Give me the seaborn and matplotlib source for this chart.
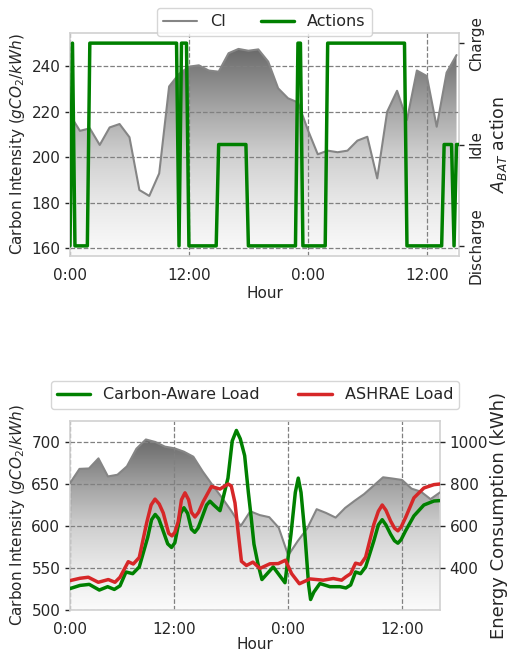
import numpy as np
import matplotlib
matplotlib.use('Agg')
import matplotlib.pyplot as plt
from matplotlib.colors import LinearSegmentedColormap
from matplotlib.patches import Polygon
import seaborn as sns

# ---- top panel: carbon intensity (hourly) + battery action (15 min steps)
ci_top = [218.5, 211.5, 212.6, 205.3, 213.0, 214.5, 208.7, 185.5, 182.9, 192.8,
          231.0, 236.5, 239.7, 240.3, 238.0, 237.5, 245.6, 247.5, 246.7, 247.3,
          241.9, 230.2, 225.8, 224.0, 211.9, 201.2, 202.8, 202.1, 202.8, 207.2,
          208.9, 190.6, 219.9, 229.1, 216.3, 238.0, 235.6, 213.3, 237.1, 244.8]
action_levels = [-1, 1, -1, 1, -1, 1, -1, 0, -1, 1, -1, 1, -1, 0, -1, 0]
action_runs = [1, 1, 6, 36, 1, 3, 12, 12, 20, 2, 10, 32, 15, 4, 1, 2]
action_ticks = [-1, 0, 1]
action_names = ['Discharge', 'Idle', 'Charge']

# ---- bottom panel: carbon intensity (hourly, starting 1h) + loads (kWh)
ci_bot = [651, 668, 668.5, 680.5, 659, 661, 671, 692, 703, 700,
          694.5, 692.5, 688.5, 682.5, 664.7, 649, 634, 618, 600, 617.5,
          613, 610.5, 598, 565, 582, 597, 620, 615.5, 610, 621.5,
          630, 638, 648, 658, 656.5, 654.8, 644.5, 640.8, 632, 640]

ashrae_t = [1.0, 2.05, 2.93, 3.98, 5.04, 5.74, 6.27, 7.14, 7.67, 8.3,
            9.08, 9.55, 9.96, 10.4, 10.83, 11.4, 11.75, 12.05, 12.4, 12.75,
            13.12, 13.5, 13.8, 14.17, 14.55, 15.05, 15.91, 16.81, 17.67, 18.0,
            18.39, 18.75, 19.07, 19.6, 20.28, 21.02, 22.07, 22.95, 23.71, 24.36,
            25.18, 26.29, 27.69, 28.75, 29.63, 30.08, 30.58, 31.1, 31.63, 32.16,
            33.03, 33.5, 33.91, 34.3, 34.79, 35.2, 35.56, 35.9, 36.37, 37.25,
            38.3, 39.36, 40.0]
ashrae_kwh = [340, 351, 356, 332, 345, 332, 356, 430, 419, 450,
              615, 700, 728, 705, 662, 565, 553, 570, 620, 725,
              758, 725, 665, 643, 665, 717, 788, 776, 800, 790,
              710, 560, 432, 412, 428, 398, 420, 421, 437, 373,
              325, 348, 342, 350, 342, 358, 373, 423, 417, 452,
              608, 670, 700, 675, 624, 590, 577, 595, 640, 734,
              781, 797, 800]

aware_t = [1.0, 2.05, 3.03, 4.09, 4.97, 5.67, 6.27, 6.9, 7.61, 8.3,
           9.19, 9.6, 9.98, 10.35, 10.69, 11.3, 11.7, 12.05, 12.4, 12.65,
           13.01, 13.4, 13.8, 14.15, 14.5, 15.4, 15.75, 16.15, 16.81, 17.65,
           18.1, 18.54, 18.95, 19.41, 19.8, 20.1, 20.39, 20.81, 21.23, 22.42,
           23.66, 24.29, 24.75, 25.06, 25.35, 25.76, 26.15, 26.36, 26.7, 27.34,
           28.4, 29.45, 30.08, 30.58, 31.1, 31.63, 32.16, 33.03, 33.5, 33.91,
           34.3, 34.79, 35.2, 35.56, 35.9, 36.37, 37.25, 38.3, 39.36, 40.0]
aware_kwh = [302, 317, 322, 295, 311, 298, 315, 381, 373, 405,
             546, 630, 655, 635, 593, 515, 498, 520, 600, 660,
             687, 660, 585, 570, 590, 700, 718, 700, 673, 828,
             1005, 1055, 1015, 935, 760, 640, 514, 420, 345, 405,
             330, 560, 760, 828, 760, 561, 320, 250, 285, 326,
             311, 311, 305, 319, 381, 373, 405, 530, 605, 630,
             605, 561, 530, 518, 535, 577, 648, 700, 719, 721]

hour_ticks_top = [0, 12, 24, 36]
hour_ticks_bot = [1, 12, 24, 36]
hour_labels = ['0:00', '12:00', '0:00', '12:00']

sns.set_theme(style='whitegrid', rc={
    'axes.edgecolor': '0.82',
    'axes.linewidth': 1.2,
    'grid.color': '0.5',
    'grid.linestyle': '--',
    'grid.linewidth': 0.9,
    'ytick.left': True,
    'ytick.right': True,
    'ytick.major.size': 3.5,
    'ytick.major.width': 1.0,
    'ytick.color': '0.15',
    'xtick.major.pad': 2.5,
    'xtick.labelsize': 11,
    'ytick.labelsize': 11,
    'axes.labelsize': 11,
    'axes.labelpad': 3,
})
plt.rcParams['font.family'] = ['DejaVu Sans']

grey_cmap = LinearSegmentedColormap.from_list(
    'ci', [(0, '#fbfbfb'), (0.26, '#e8e8e8'), (0.48, '#d0d0d0'),
           (0.7, '#a8a8a8'), (0.92, '#7a7a7a'), (1, '#6a6a6a')])


def gradient_area(ax, x, y, y0, label=None):
    x = np.asarray(x, float)
    y = np.asarray(y, float)
    sns.lineplot(x=x, y=y, ax=ax, color='#858585', lw=1.5, label=label,
                 legend=label is not None, zorder=3)
    verts = np.column_stack([np.r_[x[0], x, x[-1]], np.r_[y0, y, y0]])
    clip = Polygon(verts, closed=True, facecolor='none', edgecolor='none')
    ax.add_patch(clip)
    im = ax.imshow(np.linspace(0, 1, 256).reshape(-1, 1), cmap=grey_cmap,
                   aspect='auto', origin='lower', zorder=0.2,
                   extent=[x[0], x[-1], y0, y.max()])
    im.set_clip_path(clip)


fig = plt.figure(figsize=(5.09, 6.56), dpi=100)

# ----------------- top
ax = fig.add_axes([70 / 509, 1 - 256 / 656, 389 / 509, 223 / 656])
hours = np.arange(len(ci_top))
gradient_area(ax, hours, ci_top, 156.5, label='CI')
ax.set_xlim(0, 39.25)
ax.set_ylim(156.5, 254.5)
ax.set_yticks([160, 180, 200, 220, 240])
ax.set_xticks(hour_ticks_top)
ax.set_xticklabels(hour_labels)
ax.set_xlabel('Hour', labelpad=2)
ax.set_ylabel('Carbon Intensity ($gCO_2/kWh$)', fontsize=11)
ax.tick_params(axis='y', right=False)

ax2 = ax.twinx()
actions = np.repeat(action_levels, action_runs)
t_act = np.arange(len(actions)) * 0.25
sns.lineplot(x=t_act, y=actions, ax=ax2, color='green', lw=2.5, label='Actions')
ax2.grid(False)
ax2.set_ylim(-1.1, 1.1)
ax2.set_yticks(action_ticks)
ax2.set_yticklabels(action_names, rotation=90, va='center')
ax2.set_ylabel('$A_{BAT}$ action', fontsize=12.5)
for s in ax2.spines.values():
    s.set_visible(False)

h1, l1 = ax.get_legend_handles_labels()
h2, l2 = ax2.get_legend_handles_labels()
ax.get_legend().remove()
ax2.get_legend().remove()
ax2.legend(h1 + h2, l1 + l2, loc='upper center', bbox_to_anchor=(0.5, 1.112),
           borderaxespad=0, ncol=2, frameon=True, fontsize=11.5,
           handlelength=2.1, columnspacing=2.2)

# ----------------- bottom
bx = fig.add_axes([70 / 509, 1 - 610 / 656, 370 / 509, 189 / 656])
hours_b = np.arange(1, len(ci_bot) + 1)
gradient_area(bx, hours_b, ci_bot, 500)
bx.set_xlim(1, 40)
bx.set_ylim(500, 725)
bx.set_yticks([500, 550, 600, 650, 700])
bx.set_xticks(hour_ticks_bot)
bx.set_xticklabels(hour_labels)
bx.set_xlabel('Hour', labelpad=0)
bx.set_ylabel('Carbon Intensity ($gCO_2/kWh$)', fontsize=11)
bx.tick_params(axis='y', right=False)

bx2 = bx.twinx()
sns.lineplot(x=aware_t, y=aware_kwh, ax=bx2, color='green', lw=2.5,
             label='Carbon-Aware Load')
sns.lineplot(x=ashrae_t, y=ashrae_kwh, ax=bx2, color='#d62728', lw=2.5,
             label='ASHRAE Load')
bx2.grid(False)
bx2.set_ylim(200, 1100)
bx2.set_yticks([400, 600, 800, 1000])
bx2.set_ylabel('Energy Consumption (kWh)', fontsize=13, labelpad=1)
for s in bx2.spines.values():
    s.set_visible(False)
bx2.legend(loc='upper center', bbox_to_anchor=(0.5, 1.212), borderaxespad=0,
           ncol=2, fontsize=11.5, handlelength=2.1, columnspacing=2.4,
           frameon=True)

fig.savefig('out.png', dpi=100)
